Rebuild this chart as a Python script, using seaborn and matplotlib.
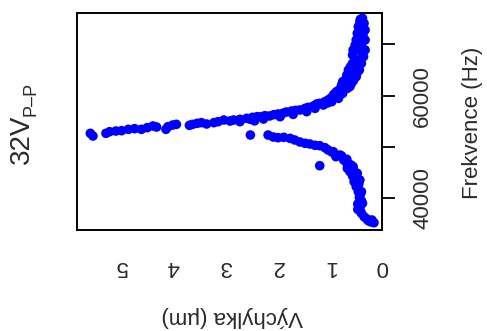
import matplotlib
matplotlib.use("Agg")
import matplotlib.pyplot as plt
import seaborn as sns
import pandas as pd

# Upper branch: displacement (um) vs frequency (Hz)
upper_x = [5.60, 5.55, 5.30, 5.23, 5.11, 5.00, 4.87, 4.75, 4.62, 4.51, 4.40, 4.33,
           4.15, 4.11, 4.02, 3.95, 3.70, 3.64, 3.55, 3.47, 3.37, 3.23, 3.15, 3.04,
           2.92, 2.85, 2.73, 2.73, 2.53, 2.49, 2.40, 2.32, 2.25, 2.16, 2.08, 2.00,
           1.91, 1.84, 1.74, 1.66, 1.58, 1.48, 1.42, 1.32, 1.26, 1.20, 1.10, 1.04,
           0.97, 0.93, 0.88, 0.82, 0.78, 0.76, 0.70, 0.68, 0.65, 0.61, 0.57, 0.57,
           0.56, 0.52, 0.50, 0.48, 0.46, 0.43, 0.38, 0.35, 0.33, 0.33, 0.33, 0.36,
           0.40, 0.44, 0.50, 0.59, 0.67, 0.76, 0.84, 0.97, 1.13, 1.29, 1.45, 1.71,
           1.96, 2.28,
           0.42, 0.40, 0.38, 0.42, 0.37, 0.45, 0.40, 0.47, 0.38, 0.50, 0.45, 0.55,
           0.48, 0.60, 0.55, 0.65, 0.62, 0.72, 0.80, 0.90, 1.00, 1.05, 2.45, 2.60]
upper_f = [52670, 52150, 52670, 52990, 53120, 53190, 53450, 53580, 53450, 53770, 54100, 53900,
           53450, 53970, 54290, 54420, 54230, 54420, 54620, 54750, 54490, 54750, 54940, 55270,
           55070, 55270, 54940, 55400, 55400, 55790, 55920, 55920, 56110, 56050, 56310, 56440,
           56570, 56830, 57020, 57150, 57220, 57540, 57740, 58000, 58390, 58520, 58840, 59170,
           59690, 60270, 60790, 61250, 62090, 62740, 63200, 64040, 65020, 65670, 66320, 67940,
           68920, 69890, 70870, 72170, 73470, 74440, 75090, 74120, 72820, 70870, 68920, 67620,
           66320, 65020, 63720, 62420, 61440, 60470, 59490, 58840, 58190, 57540, 56890, 56370,
           55920, 55460,
           74900, 74300, 73600, 73000, 71800, 71500, 70000, 69000, 68000, 67000, 66500, 65500,
           64500, 64000, 63000, 62500, 61800, 61500, 60300, 59800, 59400, 58600, 55100, 55600]

# Lower branch
lower_x = [2.53, 2.19, 2.09, 2.00, 1.89, 1.77, 1.68, 1.58, 1.48, 1.39, 1.29, 1.20,
           1.10, 1.04, 0.97, 0.89, 0.78, 0.74, 0.68, 0.67, 0.62, 0.57, 0.54, 0.50,
           0.46, 0.44, 0.47, 0.47, 0.40, 0.35, 0.27, 0.16, 0.20, 0.38, 0.40, 0.43,
           0.48, 0.56, 0.68, 0.81, 0.94, 1.20,
           0.60, 0.55, 0.50, 0.45, 0.42, 0.40, 0.43, 0.42, 0.30, 0.22]
lower_f = [52340, 52340, 51950, 51820, 51890, 51690, 51370, 50980, 50720, 50590, 50330, 50260,
           49870, 49420, 49030, 48120, 48250, 47470, 46820, 45840, 45190, 44350, 43240, 42270,
           41290, 40190, 38890, 37850, 37070, 36420, 35640, 35250, 35770, 39020, 41290, 43570,
           44870, 46170, 47600, 48440, 49090, 46360,
           46500, 45500, 44000, 42800, 40800, 39500, 38300, 37500, 36000, 35400]

x_ticks = [0, 1, 2, 3, 4, 5]
y_ticks = [40000, 50000, 60000, 70000]
y_ticklabels = ["40000", "", "60000", ""]

df = pd.DataFrame({
    "x": upper_x + lower_x,
    "f": upper_f + lower_f,
})

sns.set_style("white")
plt.rcParams["font.family"] = ["Liberation Sans", "DejaVu Sans"]

txt = "#2a2a2a"
fig = plt.figure(figsize=(4.87, 3.31), dpi=100)
ax = fig.add_axes([77.3 / 487, 1 - 230 / 331, 305 / 487, 217.3 / 331])

sns.scatterplot(data=df, x="x", y="f", ax=ax, color="#0000FF", s=48,
                linewidth=0, edgecolor="none", legend=False)

ax.set_xlim(5.85, 0)
ax.set_ylim(33820, 76190)
ax.set_xticks(x_ticks)
ax.set_xticklabels([str(t) for t in x_ticks], rotation=180, color=txt, fontsize=16)
ax.yaxis.tick_right()
ax.set_yticks(y_ticks)
ax.set_yticklabels(y_ticklabels, rotation=90, va="center", color=txt, fontsize=16)

ax.tick_params(axis="both", which="both", length=9.4, width=1.3, color="black",
               direction="out")
ax.tick_params(axis="x", pad=9)
ax.tick_params(axis="y", pad=12)
ax.yaxis.set_ticks_position("right")

for sp in ax.spines.values():
    sp.set_visible(True)
    sp.set_color("black")
    sp.set_linewidth(1.4)

ax.set_xlabel("Výchylka (µm)", rotation=180, fontsize=16, color=txt,
              ha="center", va="center")
ax.xaxis.set_label_coords(0.507, -0.396)
ax.yaxis.set_label_position("right")
ax.set_ylabel("Frekvence (Hz)", rotation=90, fontsize=16, color=txt,
              ha="center", va="center")
ax.yaxis.set_label_coords(1.297, 0.492)

# "32V" with subscript "P–P", rotated
fig.text(22 / 487, 1 - 139 / 331, "32V", rotation=90, fontsize=20, color=txt,
         ha="center", va="center")
fig.text(31 / 487, 1 - 99 / 331, "P–P", rotation=90, fontsize=13, color=txt,
         ha="center", va="center")

fig.savefig("out.png", dpi=100)
